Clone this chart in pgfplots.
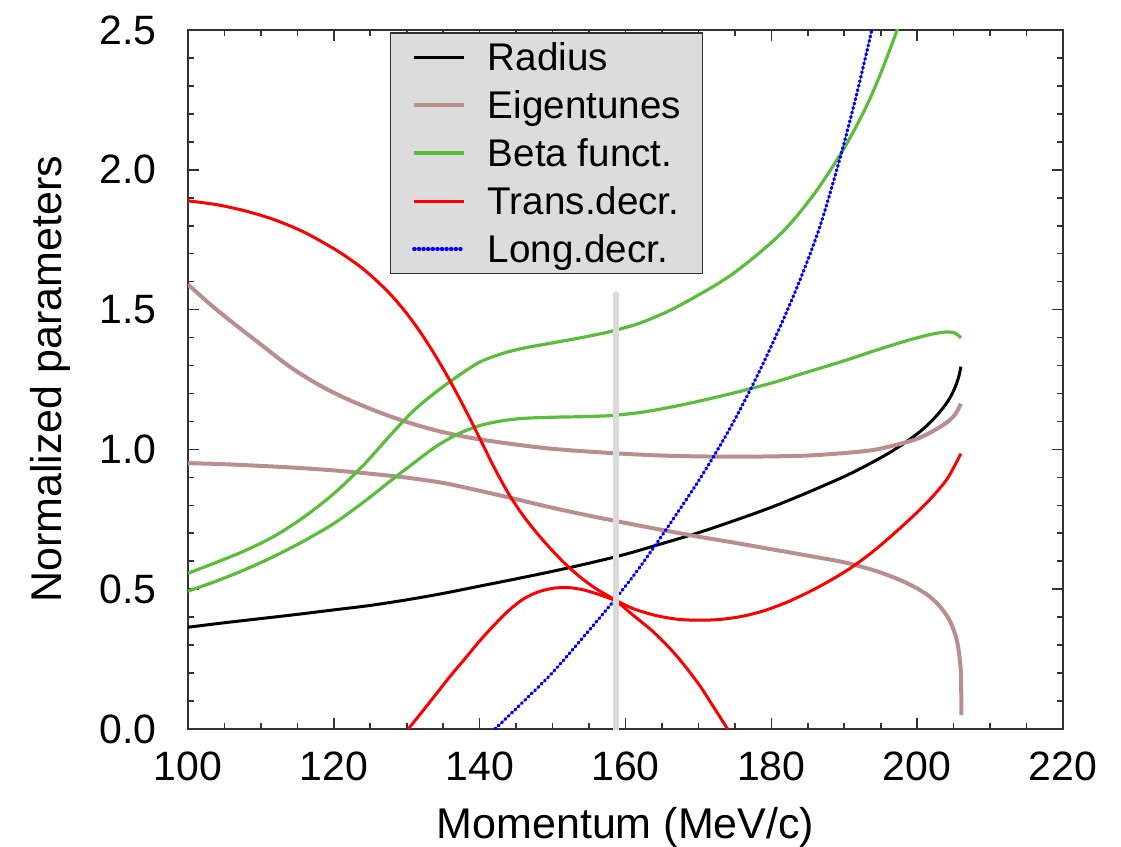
\documentclass[border=0pt]{standalone}
\usepackage{fontspec}
\setmainfont{Liberation Sans}
\usepackage{pgfplots}
\pgfplotsset{compat=1.18}
\definecolor{brownc}{RGB}{186,142,142}
\definecolor{greenc}{RGB}{90,190,60}
\definecolor{legfill}{RGB}{220,220,220}
\definecolor{barc}{RGB}{218,218,218}
\definecolor{axc}{RGB}{50,50,50}
\begin{document}
\begin{tikzpicture}
\path[use as bounding box] (-94pt,-59pt) rectangle (466.5pt,364.5pt);
\begin{axis}[
  scale only axis, width=437.5pt, height=349.5pt,
  xmin=100, xmax=220, ymin=0, ymax=2.5,
  xtick={100,120,140,160,180,200,220},
  ytick={0,0.5,1,1.5,2,2.5},
  minor x tick num=3, minor y tick num=4,
  major tick length=5.5pt, minor tick length=3pt,
  tick style={axc, line width=0.8pt},
  axis line style={axc, line width=1pt},
  /pgf/number format/assume math mode=true,
  tick label style={font=\fontsize{20.5}{24}\selectfont},
  xticklabel style={anchor=base, yshift=-25.5pt},
  yticklabel style={anchor=east, inner xsep=0pt, xshift=-15.5pt,
    /pgf/number format/.cd, fixed, fixed zerofill, precision=1},
  label style={font=\fontsize{21.5}{26}\selectfont},
  xlabel={Momentum (MeV/c)},
  ylabel={Normalized parameters},
  xlabel style={at={(axis description cs:0.5,-0.156)}, anchor=base},
  ylabel style={at={(axis description cs:-0.144,0.5)}, anchor=base},
  legend image code/.code={\draw[#1] (0pt,0pt) -- (12.5pt,0pt) -- (25pt,0pt);},
  legend cell align=left,
  legend style={at={(axis description cs:0.2303,0.997)}, anchor=north west,
    draw=axc, line width=0.7pt, fill=legfill,
    font=\fontsize{19.3}{23}\selectfont,
    inner xsep=10.8pt, inner ysep=5.2pt, row sep=10.2pt, column sep=11pt,
    nodes={inner xsep=0pt, inner ysep=0pt, text height=13.8pt, text depth=0pt}},
]
% Radius
\addplot[black, line width=1.5pt, smooth] coordinates {
(100,0.364) (105,0.380) (110,0.395) (115,0.410) (120,0.426) (125,0.442)
(130,0.462) (135,0.485) (140,0.511) (145,0.537) (150,0.564) (155,0.593)
(160,0.625) (165,0.663) (170,0.702) (175,0.746) (180,0.793) (185,0.846)
(190,0.903) (193,0.942) (196,0.985) (198.5,1.027) (200.5,1.066) (202,1.102)
(203.3,1.140) (204.4,1.180) (205.2,1.222) (205.7,1.260) (206,1.296)};
\addlegendentry{Radius}
% Eigentunes
\addplot[brownc, line width=2pt, smooth] coordinates {
(100,1.590) (103,1.520) (106,1.456) (110,1.375) (114,1.295) (118,1.230)
(122,1.178) (126,1.135) (130,1.098) (134,1.068) (138,1.045) (142,1.028)
(146,1.014) (150,1.002) (155,0.992) (160,0.984) (165,0.978) (170,0.975)
(175,0.974) (180,0.975) (185,0.978) (190,0.987) (194,0.998) (197.7,1.020)
(200,1.038) (202,1.063) (204,1.095) (205.2,1.125) (206,1.163)};
\addlegendentry{Eigentunes}
\addplot[brownc, line width=2pt, smooth, forget plot] coordinates {
(100,0.951) (105,0.947) (110,0.941) (115,0.934) (120,0.925) (125,0.913)
(130,0.899) (135,0.880) (140,0.852) (145,0.822) (150,0.791) (155,0.763)
(160,0.737) (165,0.712) (170,0.688) (175,0.666) (180,0.643) (185,0.620)
(190,0.596) (194,0.568) (197,0.540) (199.5,0.510) (201.5,0.478) (203,0.442)
(204.2,0.400) (205,0.355) (205.5,0.310) (205.8,0.260) (206,0.200)
(206.05,0.12) (206.07,0.05)};
% Beta funct.
\addplot[greenc, line width=1.6pt, smooth] coordinates {
(100,0.557) (104,0.597) (108,0.640) (112,0.692) (116,0.760) (120,0.842)
(124,0.942) (128,1.058) (131,1.140) (134,1.205) (137,1.262) (140,1.312)
(143,1.342) (146,1.362) (150,1.381) (154,1.400) (158,1.422) (162,1.452)
(166,1.496) (170,1.552) (174,1.615) (178,1.695) (182,1.790) (186,1.918)
(190,2.078) (193,2.225) (195,2.345) (197.2,2.496) (197.6,2.53)};
\addlegendentry{Beta funct.}
\addplot[greenc, line width=1.6pt, smooth, forget plot] coordinates {
(100,0.493) (104,0.530) (108,0.572) (112,0.620) (116,0.674) (120,0.735)
(124,0.810) (128,0.892) (131,0.952) (134,1.010) (137,1.055) (140,1.085)
(143,1.102) (146,1.111) (150,1.115) (154,1.117) (158,1.121) (162,1.132)
(166,1.150) (170,1.172) (175,1.203) (180,1.237) (185,1.277) (190,1.317)
(195,1.360) (199,1.392) (202,1.412) (204,1.420) (205.2,1.416) (206,1.399)};
% Trans.decr.
\addplot[red, line width=1.5pt, smooth] coordinates {
(100,1.889) (104,1.875) (108,1.852) (112,1.820) (116,1.776) (120,1.718)
(122,1.684) (124,1.646) (126,1.600) (128,1.548) (130,1.486) (132,1.414)
(134,1.332) (136,1.242) (138,1.144) (140,1.040) (142,0.935) (144,0.840)
(146,0.762) (148,0.696) (150,0.637) (152,0.584) (154,0.539) (156,0.501)
(158.6,0.460) (161,0.408) (164,0.343) (167,0.262) (170,0.162) (172,0.082) (174,0)};
\addlegendentry{Trans.decr.}
\addplot[red, line width=1.5pt, smooth, forget plot] coordinates {
(130.2,0) (132,0.058) (134,0.124) (136,0.190) (138,0.252) (140,0.315)
(142,0.372) (144,0.424) (146,0.465) (148,0.490) (150,0.503) (152,0.506)
(154,0.499) (156,0.484) (158.6,0.460) (161,0.431) (164,0.407) (167,0.393)
(170,0.389) (173,0.392) (176,0.403) (179,0.423) (182,0.452) (185,0.488)
(188,0.530) (191,0.578) (194,0.636) (197,0.703) (200,0.775) (202,0.828)
(204,0.890) (205,0.935) (206,0.985)};
% Long.decr.
\addplot[blue, line width=1.6pt, dash pattern=on 0.6pt off 1.7pt, line cap=round, smooth] coordinates {
(142.1,0) (146,0.098) (150,0.202) (154,0.322) (158.6,0.465) (162,0.580)
(166,0.730) (170.2,0.895) (174,1.060) (177.3,1.223) (180.8,1.415)
(183.9,1.604) (186.7,1.800) (189.4,2.040) (191.7,2.270) (193.6,2.480) (194,2.53)};
\addlegendentry{Long.decr.}
% marker bar
\addplot[barc, line width=3pt, line cap=round, forget plot] coordinates {
(158.7,-0.02) (158.7,1.555)};
\end{axis}
\end{tikzpicture}
\end{document}
